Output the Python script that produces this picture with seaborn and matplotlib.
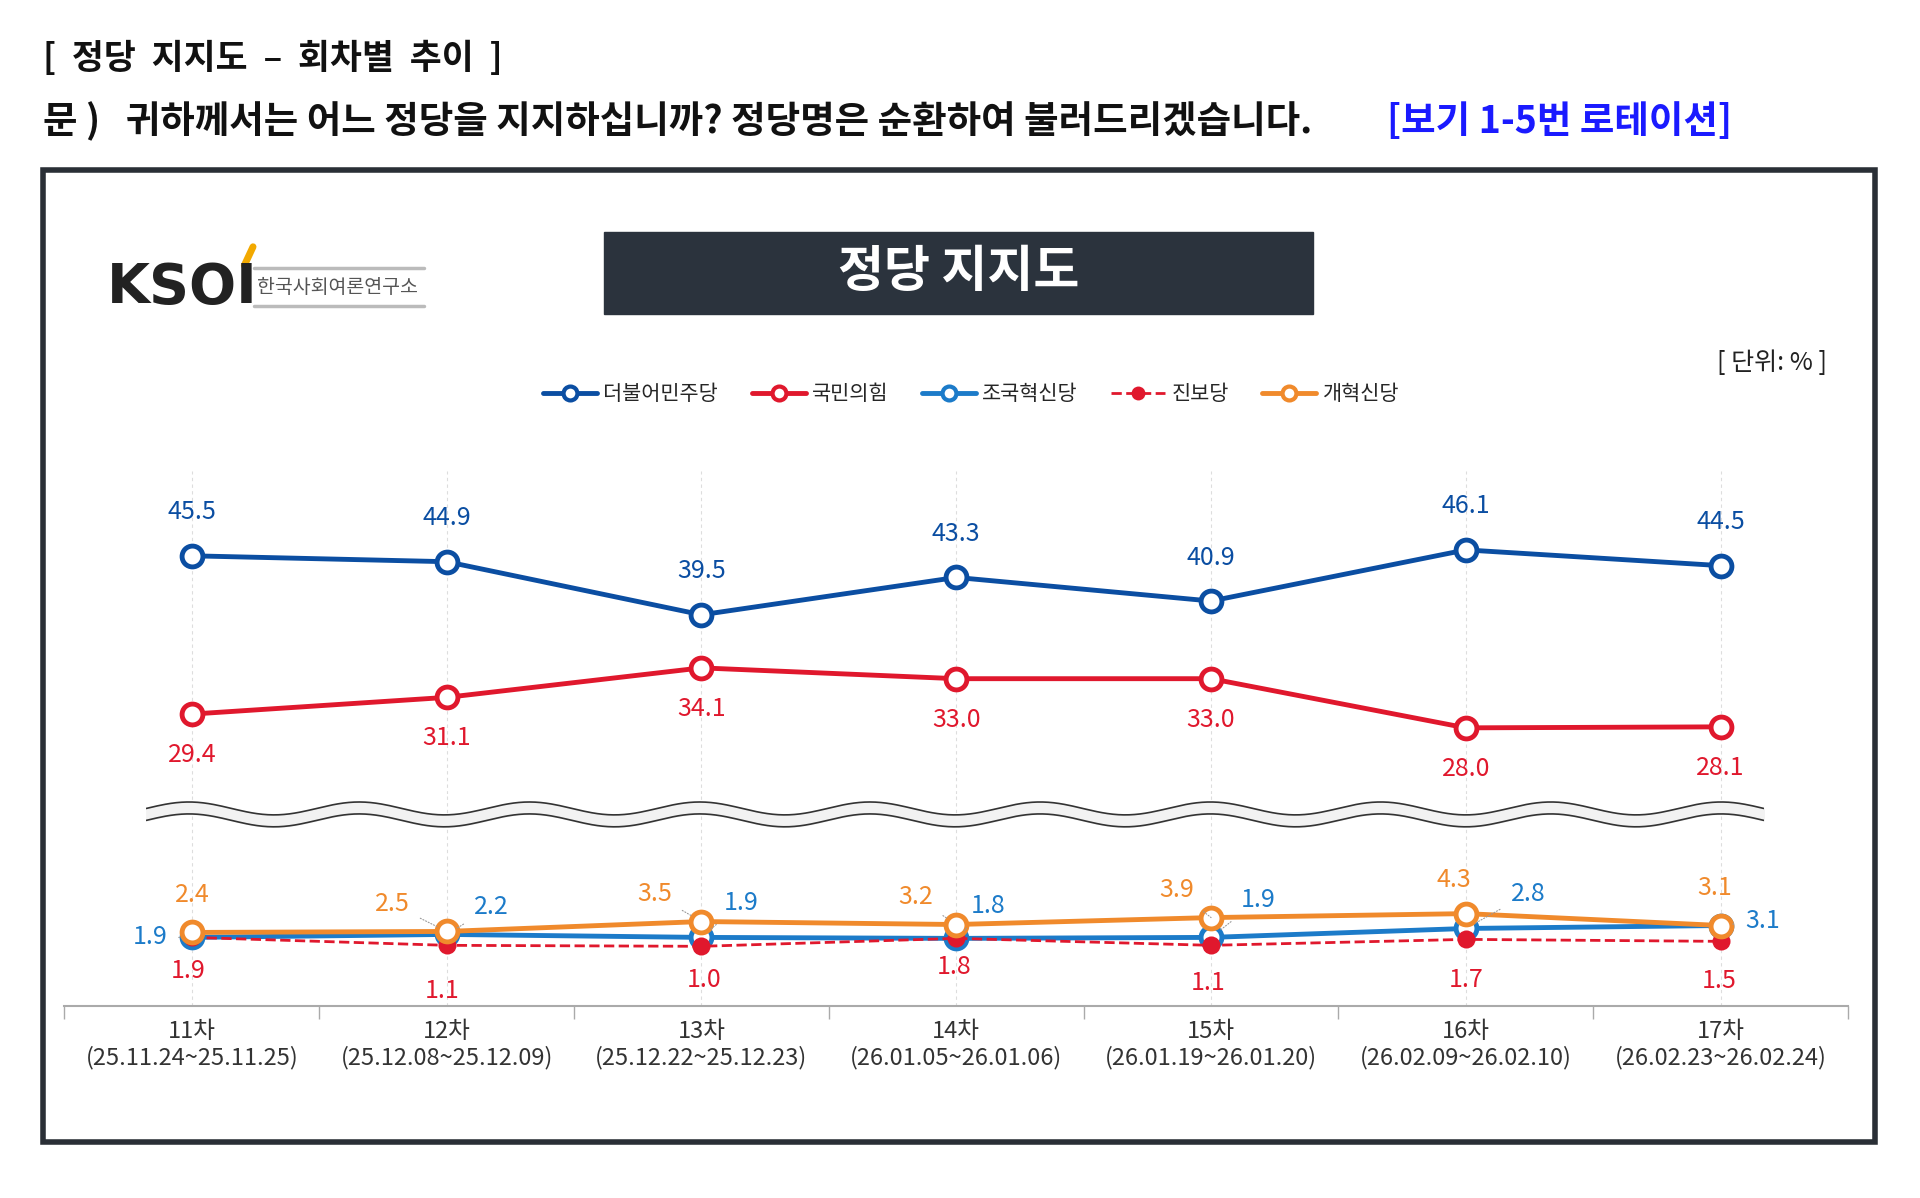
import matplotlib.pyplot as plt
import numpy as np
import seaborn as sns
from matplotlib.lines import Line2D
from matplotlib.patches import Rectangle

sns.set_theme(style="white")
plt.rcParams["font.family"] = ["Noto Sans CJK KR", "DejaVu Sans"]

rounds = ["11차", "12차", "13차", "14차", "15차", "16차", "17차"]
dates = ["(25.11.24~25.11.25)", "(25.12.08~25.12.09)", "(25.12.22~25.12.23)",
         "(26.01.05~26.01.06)", "(26.01.19~26.01.20)", "(26.02.09~26.02.10)",
         "(26.02.23~26.02.24)"]
minjoo = [45.5, 44.9, 39.5, 43.3, 40.9, 46.1, 44.5]
ppp = [29.4, 31.1, 34.1, 33.0, 33.0, 28.0, 28.1]
rebuild = [1.9, 2.2, 1.9, 1.8, 1.9, 2.8, 3.1]
progressive = [1.9, 1.1, 1.0, 1.8, 1.1, 1.7, 1.5]
reform = [2.4, 2.5, 3.5, 3.2, 3.9, 4.3, 3.1]
party_names = ["더불어민주당", "국민의힘", "조국혁신당", "진보당", "개혁신당"]

C_DP, C_PPP, C_RB, C_PR, C_RF = "#0b4ea2", "#e0182d", "#1c7bc9", "#e0182d", "#f08a2c"

W, H = 1548, 966  # layout reference units
fig = plt.figure(figsize=(19.2, 11.98), dpi=100)


def fx(x):
    return x / W


def fy(y):
    return 1 - y / H


PT = 0.893  # layout px -> points

# headers
fig.text(fx(35), fy(47), "[  정당  지지도  –  회차별  추이  ]", fontsize=25, fontweight="bold",
         va="center", color="#111111")
fig.text(fx(35), fy(98), "문 )   귀하께서는 어느 정당을 지지하십니까? 정당명은 순환하여 불러드리겠습니다.",
         fontsize=27, fontweight="bold", va="center", color="#111111")
fig.text(fx(1118), fy(98), "[보기 1-5번 로테이션]", fontsize=27, fontweight="bold",
         va="center", color="#1a1aff")

# frame
fig.patches.append(Rectangle((fx(35), fy(921)), fx(1512 - 35), (921 - 137) / H,
                             transform=fig.transFigure, fill=False, lw=4,
                             edgecolor="#2a2f36"))
# title box
fig.patches.append(Rectangle((fx(487), fy(253)), fx(1059 - 487), (253 - 187) / H,
                             transform=fig.transFigure, color="#2b333d"))
fig.text(fx(773), fy(220), "정당 지지도", fontsize=36, color="white", ha="center",
         va="center", fontweight="bold")
# logo
fig.text(fx(86), fy(232), "KSOI", fontsize=40, fontweight="bold", color="#222222",
         va="center", family=["DejaVu Sans"])
fig.text(fx(207), fy(232), "한국사회여론연구소", fontsize=14, color="#555555", va="center")
for yy in (216, 247):
    fig.add_artist(plt.Line2D([fx(205), fx(342)], [fy(yy), fy(yy)], color="#bbbbbb",
                              lw=2.5, transform=fig.transFigure))
fig.add_artist(plt.Line2D([fx(197), fx(204)], [fy(214), fy(199)], color="#f2a900",
                          lw=5, transform=fig.transFigure))
fig.text(fx(1473), fy(293), "[ 단위: % ]", fontsize=18, ha="right", va="center",
         color="#222222")

x = np.arange(len(rounds))
ax_t = fig.add_axes([fx(52), fy(640), fx(1438), 260 / H])
ax_b = fig.add_axes([fx(52), fy(811), fx(1438), 171 / H])
for ax in (ax_t, ax_b):
    ax.set_xlim(-0.5, 6.5)
    ax.patch.set_alpha(0)
    for s in ax.spines.values():
        s.set_visible(False)
    ax.set_yticks([])
    for xi in x:
        ax.axvline(xi, color="#dddddd", lw=0.8, ls=(0, (3, 3)), zorder=0)
ax_t.set_ylim(21.3, 54.1)
ax_b.set_ylim(-5, 16.4)
ax_t.set_xticks([])

mk = dict(marker="o", markersize=15, markerfacecolor="white", markeredgewidth=3.5, lw=3.5)
sns.lineplot(x=x, y=minjoo, ax=ax_t, color=C_DP, markeredgecolor=C_DP, **mk)
sns.lineplot(x=x, y=ppp, ax=ax_t, color=C_PPP, markeredgecolor=C_PPP, **mk)
sns.lineplot(x=x, y=rebuild, ax=ax_b, color=C_RB, markeredgecolor=C_RB, **mk)
sns.lineplot(x=x, y=progressive, ax=ax_b, color=C_PR, ls="--", lw=2, marker="o",
             markersize=13, markeredgewidth=0)
sns.lineplot(x=x, y=reform, ax=ax_b, color=C_RF, markeredgecolor=C_RF, **mk)

# legend
colors = [C_DP, C_PPP, C_RB, C_PR, C_RF]
handles = []
for name, c in zip(party_names, colors):
    if name == "진보당":
        handles.append(Line2D([], [], color=c, ls="--", lw=2, marker="o", markersize=10,
                              markeredgewidth=0))
    else:
        handles.append(Line2D([], [], color=c, lw=3.5, marker="o", markersize=10,
                              markerfacecolor="white", markeredgecolor=c,
                              markeredgewidth=3))
fig.legend(handles, party_names, loc="center", bbox_to_anchor=(fx(783), fy(318)), ncol=5,
           frameon=False, fontsize=15, handlelength=2.6, columnspacing=1.6,
           handletextpad=0.3)

lab = dict(ha="center", va="center", fontsize=18, textcoords="offset points")
for xi, v in zip(x, minjoo):
    ax_t.annotate(f"{v:.1f}", (xi, v), xytext=(0, 35 * PT), color=C_DP, **lab)
for xi, v in zip(x, ppp):
    ax_t.annotate(f"{v:.1f}", (xi, v), xytext=(0, -33 * PT), color=C_PPP, **lab)

rf_off = [(0, 30), (-44, 22), (-38, 22), (-33, 22), (-28, 22), (-10, 27), (-5, 30)]
rb_off = [(-34, 0), (36, 22), (32, 28), (26, 26), (38, 30), (50, 28), (34, 4)]
pr_off = [(-3, -27), (-4, -37), (2, -27), (-2, -23), (-2, -30), (0, -33), (-1, -32)]
arrow = dict(arrowstyle="-", color="#999999", lw=0.8, ls=":", shrinkA=6, shrinkB=8)
for i, xi in enumerate(x):
    o = rf_off[i]
    ax_b.annotate(f"{reform[i]:.1f}", (xi, reform[i]), xytext=(o[0] * PT, o[1] * PT),
                  color=C_RF, arrowprops=arrow if o[0] < -20 else None, **lab)
    o = rb_off[i]
    ax_b.annotate(f"{rebuild[i]:.1f}", (xi, rebuild[i]), xytext=(o[0] * PT, o[1] * PT),
                  color=C_RB, arrowprops=arrow, **lab)
    o = pr_off[i]
    ax_b.annotate(f"{progressive[i]:.1f}", (xi, progressive[i]),
                  xytext=(o[0] * PT, o[1] * PT), color=C_PR, **lab)

# x axis
ax_b.spines["bottom"].set_visible(True)
ax_b.spines["bottom"].set_color("#aaaaaa")
ax_b.spines["bottom"].set_linewidth(1.5)
ax_b.set_xticks(x)
ax_b.set_xticklabels([f"{r}\n{d}" for r, d in zip(rounds, dates)], fontsize=17,
                     color="#333333", linespacing=1.15)
ax_b.tick_params(axis="x", length=0, pad=10)
ax_b.set_xticks(np.arange(-0.5, 7, 1), minor=True)
ax_b.tick_params(axis="x", which="minor", length=9, color="#aaaaaa", width=1,
                 direction="out", bottom=True)

# break wave
wax = fig.add_axes([fx(118), fy(668), fx(1422 - 118), 26 / H])
wx = np.linspace(0, 1, 600)
w1 = 0.62 + 0.2 * np.sin(wx * 2 * np.pi * 9.5)
w2 = 0.25 + 0.2 * np.sin(wx * 2 * np.pi * 9.5)
wax.fill_between(wx, w2, w1, color="#f2f2f2")
wax.plot(wx, w1, color="#333333", lw=1.2)
wax.plot(wx, w2, color="#333333", lw=1.2)
wax.set_xlim(0, 1)
wax.set_ylim(0, 1)
wax.axis("off")

fig.savefig("out.png", dpi=100, facecolor="white")
